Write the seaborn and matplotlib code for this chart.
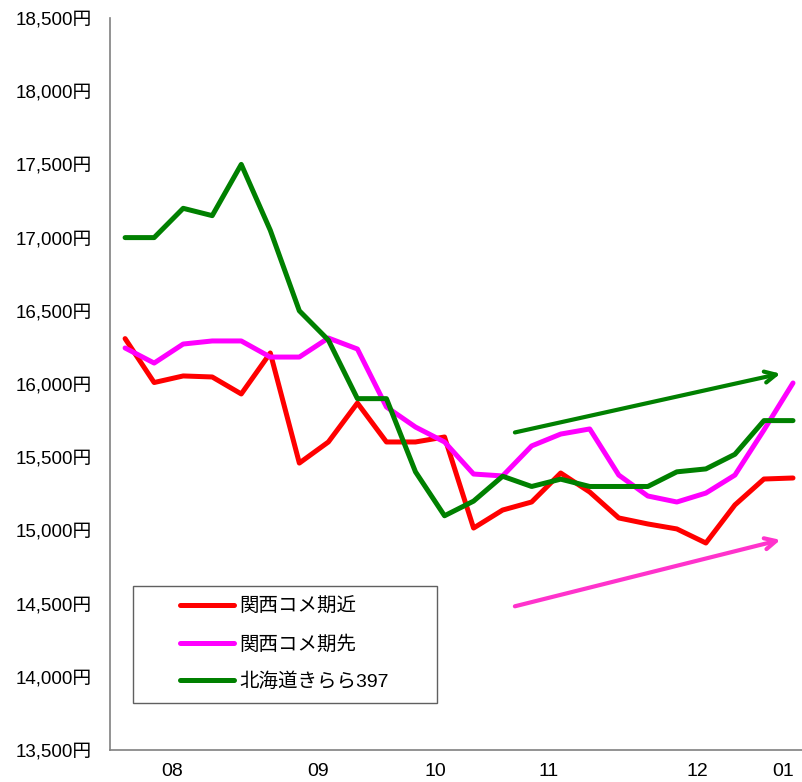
import numpy as np
import pandas as pd
import matplotlib
matplotlib.use("Agg")
import matplotlib.pyplot as plt
from matplotlib.patches import Rectangle
import seaborn as sns


## DATOS ##

series_names = ["関西コメ期近", "関西コメ期先", "北海道きらら397"]
series_colors = ["#ff0000", "#ff00ff", "#008000"]

kansai_kinki = [16310, 16010, 16055, 16048, 15932, 16212, 15460, 15604,
                15870, 15604, 15604, 15638, 15016, 15139, 15194, 15392,
                15262, 15085, 15044, 15010, 14914, 15174, 15351, 15358]
kansai_saki = [16246, 16143, 16273, 16294, 16294, 16184, 16184, 16314,
               16239, 15843, 15706, 15604, 15385, 15372, 15577, 15658,
               15693, 15378, 15235, 15194, 15255, 15378, 15686, 16007]
hokkaido_kirara = [17000, 17000, 17200, 17150, 17500, 17050, 16500, 16300,
                   15900, 15900, 15400, 15100, 15200, 15370, 15300, 15350,
                   15300, 15300, 15300, 15400, 15420, 15520, 15750, 15750]

month_labels = ["08", "09", "10", "11", "12", "01"]
month_tick_pos = [1.62, 6.65, 10.67, 14.6, 19.7, 22.66]

y_ticks = list(range(13500, 19000, 500))


## DATAFRAME LARGO ##

df = pd.concat([
    pd.DataFrame({"idx": np.arange(len(vals)), "precio": vals, "serie": name})
    for name, vals in zip(series_names, [kansai_kinki, kansai_saki, hokkaido_kirara])
])


## GRÁFICO ##

sns.set_style("white")
plt.rcParams['font.family'] = ['Liberation Sans', 'Noto Sans CJK JP']

fig = plt.figure(figsize=(8.02, 7.82), dpi=100)
ax = fig.add_axes([110 / 802, 1 - 750 / 782, 692 / 802, 732 / 782])

sns.lineplot(
    data=df, x="idx", y="precio", hue="serie",
    hue_order=series_names, palette=series_colors,
    linewidth=3.6, ax=ax, legend=True
)

# flechas de tendencia
ax.annotate("", xy=(22.66, 16075), xytext=(13.33, 15665),
            arrowprops=dict(arrowstyle="->,head_length=0.8,head_width=0.4",
                            color="#008000", lw=3))
ax.annotate("", xy=(22.66, 14940), xytext=(13.33, 14477),
            arrowprops=dict(arrowstyle="->,head_length=0.8,head_width=0.4",
                            color="#ff33cc", lw=3))

ax.set_xlim(-0.52, 23.31)
ax.set_ylim(13500, 18500)
ax.set_yticks(y_ticks)
ax.set_yticklabels([f"{v:,}円" for v in y_ticks], fontsize=13.5, color="black")
ax.set_xticks(month_tick_pos)
ax.set_xticklabels(month_labels, fontsize=14, color="black")
ax.tick_params(axis="both", length=0)
ax.tick_params(axis="x", pad=9)
ax.tick_params(axis="y", pad=13)
ax.set_xlabel("")
ax.set_ylabel("")

for s in ["top", "right"]:
    ax.spines[s].set_visible(False)
for s in ["left", "bottom"]:
    ax.spines[s].set_color("#808080")
    ax.spines[s].set_linewidth(1.2)

# caja de la leyenda (tamaño fijo como en el original)
ax.add_patch(Rectangle((23 / 692, 47 / 732), 304 / 692, 117 / 732,
                       transform=ax.transAxes, facecolor="white",
                       edgecolor="#606060", linewidth=1.0, zorder=4))

leg = ax.legend(loc="upper left", bbox_to_anchor=(70 / 692, 152 / 732),
                fontsize=14, frameon=False, handlelength=2.8,
                labelspacing=0.98, borderpad=0, borderaxespad=0,
                handletextpad=0.25)
leg.set_zorder(5)
for line in leg.get_lines():
    line.set_linewidth(3.6)
for t in leg.get_texts():
    t.set_color("black")

fig.savefig("out.png", dpi=100)
